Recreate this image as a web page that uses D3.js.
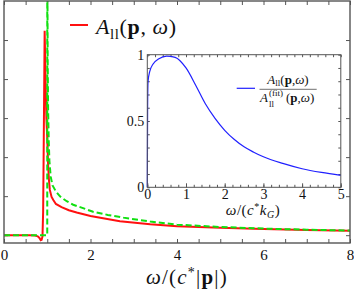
<!DOCTYPE html>
<html lang="en">
<head>
<meta charset="UTF-8">
<title>Spectral function</title>
<script src="https://d3js.org/d3.v7.min.js"></script>
<style>
  body { margin: 0; background: #fff; }
  svg { display: block; font-family: "Liberation Serif", "DejaVu Serif", serif; }
</style>
</head>
<body>
<svg width="354" height="290"></svg>
<script>
// main panel: A_ll(p, w) (red) and the fit (green dashed)
var redW   = [0, 0.6, 0.72, 0.78, 0.82, 0.85, 0.87, 0.89, 0.905, 0.92, 0.94, 0.96, 0.98, 1.0, 1.02, 1.04, 1.06, 1.1, 1.14, 1.2, 1.33, 1.5, 1.68, 2.0, 2.68, 3.38, 4.0, 5.0, 6.0, 7.0, 8.0];
var redA   = [0, 0, -0.01, -0.03, -0.07, -0.13, -0.12, -0.03, 0.6, 2.5, 5.24, 4.0, 3.0, 2.5, 1.8, 1.4, 1.16, 0.98, 0.9, 0.8, 0.72, 0.64, 0.58, 0.49, 0.36, 0.28, 0.23, 0.19, 0.16, 0.135, 0.115];
var greenW = [0, 1.0, 1.0, 1.003, 1.01, 1.02, 1.035, 1.05, 1.08, 1.12, 1.2, 1.3, 1.45, 1.6, 1.76, 2.06, 2.4, 2.76, 3.38, 4.0, 5.0, 6.0, 7.0, 8.0];
var greenA = [0, 0, 7, 7, 4.5, 3.2, 2.4, 1.9, 1.5, 1.28, 1.12, 0.99, 0.87, 0.78, 0.72, 0.6, 0.52, 0.45, 0.35, 0.27, 0.21, 0.17, 0.14, 0.12];

// inset: ratio A_ll / A_ll^(fit)
var blueW = [0, 0.008, 0.02, 0.06, 0.15, 0.3, 0.5, 0.72, 1.0, 1.25, 1.5, 1.75, 2.0, 2.25, 2.5, 2.75, 3.0, 3.5, 4.0, 4.5, 5.0];
var blueR = [0, 0.6, 0.8, 0.87, 0.93, 0.97, 0.99, 0.98, 0.9, 0.77, 0.63, 0.52, 0.43, 0.36, 0.305, 0.265, 0.23, 0.18, 0.14, 0.112, 0.09];

var mainXTicks = [0, 2, 4, 6, 8];
var insetXTicks = [0, 1, 2, 3, 4, 5];
var insetYTicks = [0, 0.5, 1];
var insetYLabels = ["0", "0.5", "1"];

var svg = d3.select("svg");
var frameColor = "#555";

function pairs(xs, ys) {
    return xs.map(function(v, i) { return [v, ys[i]]; });
}

// small helper for math-like labels built from tspans
function richText(g, x, y, size, parts, anchor) {
    var t = g.append("text")
        .attr("x", x).attr("y", y)
        .attr("font-size", size)
        .attr("text-anchor", anchor || "start")
        .attr("fill", "#111");
    parts.forEach(function(p) {
        var s = t.append("tspan").text(p.t);
        if (p.i) s.attr("font-style", "italic");
        if (p.b) s.attr("font-weight", "bold");
        if (p.s) s.attr("font-size", p.s);
        if (p.dy) s.attr("dy", p.dy);
    });
    return t;
}

function styleAxis(g) {
    g.select(".domain").remove();
    g.selectAll("line").attr("stroke", frameColor);
    g.selectAll("text").attr("fill", "#111");
}

// ---------- main plot ----------
var x = d3.scaleLinear().domain([0, 8]).range([4, 350]);
var y = d3.scaleLinear().domain([-0.2, 6]).range([243, 1]);

svg.append("clipPath").attr("id", "mainClip")
    .append("rect")
    .attr("x", x(0)).attr("y", y(6))
    .attr("width", x(8) - x(0)).attr("height", y(-0.2) - y(6));

var mainMinor = d3.range(0, 8.01, 0.5);

svg.append("g")
    .attr("transform", "translate(0," + y(-0.2) + ")")
    .call(d3.axisBottom(x).tickValues(mainMinor).tickSize(-4).tickFormat(""))
    .call(styleAxis);
svg.append("g")
    .attr("transform", "translate(0," + y(-0.2) + ")")
    .call(d3.axisBottom(x).tickValues(mainXTicks).tickSize(0).tickPadding(6).tickFormat(d3.format("d")))
    .attr("font-size", 15)
    .attr("font-family", "Liberation Serif, serif")
    .call(styleAxis);
svg.append("g")
    .attr("transform", "translate(0," + y(6) + ")")
    .call(d3.axisTop(x).tickValues(mainMinor).tickSize(-4).tickFormat(""))
    .call(styleAxis);
svg.append("g")
    .attr("transform", "translate(" + x(0) + ",0)")
    .call(d3.axisLeft(y).tickValues([0, 1, 2, 3, 4, 5]).tickSize(-4).tickFormat(""))
    .call(styleAxis);
svg.append("g")
    .attr("transform", "translate(" + x(8) + ",0)")
    .call(d3.axisRight(y).tickValues([0, 1, 2, 3, 4, 5]).tickSize(-4).tickFormat(""))
    .call(styleAxis);

var mainLine = d3.line()
    .x(function(d) { return x(d[0]); })
    .y(function(d) { return y(d[1]); });

var curves = svg.append("g").attr("clip-path", "url(#mainClip)");
curves.append("path")
    .datum(pairs(redW, redA))
    .attr("d", mainLine)
    .attr("fill", "none")
    .attr("stroke", "#ff1010")
    .attr("stroke-width", 2);
curves.append("path")
    .datum(pairs(greenW, greenA))
    .attr("d", mainLine)
    .attr("fill", "none")
    .attr("stroke", "#10e010")
    .attr("stroke-width", 2)
    .attr("stroke-dasharray", "6,3");

svg.append("rect")
    .attr("x", x(0)).attr("y", y(6))
    .attr("width", x(8) - x(0)).attr("height", y(-0.2) - y(6))
    .attr("fill", "none")
    .attr("stroke", frameColor)
    .attr("stroke-width", 1.4);

// main legend
svg.append("line")
    .attr("x1", 70).attr("x2", 88).attr("y1", 25).attr("y2", 25)
    .attr("stroke", "#ff1010").attr("stroke-width", 2);
richText(svg, 96, 34, 22, [
    {t: "A", i: true},
    {t: "ll", s: 15, dy: 5},
    {t: "(", dy: -5},
    {t: "p", b: true},
    {t: ", "},
    {t: "\u03c9", i: true},
    {t: ")"}
]).attr("letter-spacing", 0.6);

// main x label
richText(svg, 187, 284, 21, [
    {t: "\u03c9", i: true},
    {t: "/("},
    {t: "c", i: true},
    {t: "*", s: 14, dy: -7},
    {t: "|", dy: 7},
    {t: "p", b: true},
    {t: "|)"}
], "middle").attr("letter-spacing", 1.2);

// ---------- inset ----------
var xi = d3.scaleLinear().domain([0, 5]).range([147.3, 340.8]);
var yi = d3.scaleLinear().domain([0, 1]).range([187.3, 54.7]);

svg.append("rect")
    .attr("x", xi(0)).attr("y", yi(1))
    .attr("width", xi(5) - xi(0)).attr("height", yi(0) - yi(1))
    .attr("fill", "#fff");

var insetXMinor = d3.range(0, 5.01, 0.2);
var insetYMinor = d3.range(0, 1.001, 0.1);

svg.append("g")
    .attr("transform", "translate(0," + yi(0) + ")")
    .call(d3.axisBottom(xi).tickValues(insetXMinor).tickSize(-2.5).tickFormat(""))
    .call(styleAxis);
svg.append("g")
    .attr("transform", "translate(0," + yi(0) + ")")
    .call(d3.axisBottom(xi).tickValues(insetXTicks).tickSize(-4).tickPadding(2).tickFormat(d3.format("d")))
    .attr("font-size", 14)
    .attr("font-family", "Liberation Serif, serif")
    .call(styleAxis);
svg.append("g")
    .attr("transform", "translate(0," + yi(1) + ")")
    .call(d3.axisTop(xi).tickValues(insetXMinor).tickSize(-2.5).tickFormat(""))
    .call(styleAxis);
svg.append("g")
    .attr("transform", "translate(" + xi(0) + ",0)")
    .call(d3.axisLeft(yi).tickValues(insetYMinor).tickSize(-2.5).tickFormat(""))
    .call(styleAxis);
svg.append("g")
    .attr("transform", "translate(" + xi(0) + ",0)")
    .call(d3.axisLeft(yi).tickValues(insetYTicks).tickSize(0).tickPadding(3)
        .tickFormat(function(d, i) { return insetYLabels[i]; }))
    .attr("font-size", 14)
    .attr("font-family", "Liberation Serif, serif")
    .call(styleAxis);
svg.append("g")
    .attr("transform", "translate(" + xi(5) + ",0)")
    .call(d3.axisRight(yi).tickValues(insetYMinor).tickSize(-2.5).tickFormat(""))
    .call(styleAxis);

svg.append("path")
    .datum(pairs(blueW, blueR))
    .attr("d", d3.line()
        .x(function(d) { return xi(d[0]); })
        .y(function(d) { return yi(d[1]); })
        .curve(d3.curveMonotoneX))
    .attr("fill", "none")
    .attr("stroke", "#2020ff")
    .attr("stroke-width", 1.2);

svg.append("rect")
    .attr("x", xi(0)).attr("y", yi(1))
    .attr("width", xi(5) - xi(0)).attr("height", yi(0) - yi(1))
    .attr("fill", "none")
    .attr("stroke", frameColor)
    .attr("stroke-width", 1);

// inset x label
richText(svg, 253, 215, 15, [
    {t: "\u03c9", i: true},
    {t: "/("},
    {t: "c", i: true},
    {t: "*", s: 10, dy: -5},
    {t: "k", i: true, dy: 5},
    {t: "G", i: true, s: 10, dy: 3},
    {t: ")", dy: -3}
], "middle").attr("letter-spacing", 0.5);

// inset legend
svg.append("line")
    .attr("x1", 236.7).attr("x2", 255).attr("y1", 88.3).attr("y2", 88.3)
    .attr("stroke", "#2020ff").attr("stroke-width", 1.2);
richText(svg, 288, 83.5, 13, [
    {t: "A", i: true},
    {t: "ll", s: 9, dy: 2},
    {t: "(", dy: -2},
    {t: "p", b: true},
    {t: ","},
    {t: "\u03c9", i: true},
    {t: ")"}
], "middle");
svg.append("line")
    .attr("x1", 259.5).attr("x2", 316.7).attr("y1", 89.3).attr("y2", 89.3)
    .attr("stroke", "#333").attr("stroke-width", 0.7);
richText(svg, 260, 102, 13, [{t: "A", i: true}]);
richText(svg, 269, 96, 9, [{t: "(fit)"}]);
richText(svg, 269, 107, 9, [{t: "ll"}]);
richText(svg, 286, 102, 13, [
    {t: "("},
    {t: "p", b: true},
    {t: ","},
    {t: "\u03c9", i: true},
    {t: ")"}
]);
</script>
</body>
</html>
